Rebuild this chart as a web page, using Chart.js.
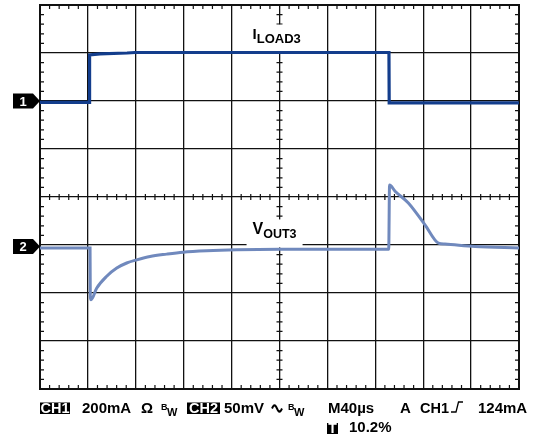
<!DOCTYPE html>
<html>
<head>
<meta charset="utf-8">
<script src="https://cdn.jsdelivr.net/npm/chart.js@4/dist/chart.umd.min.js"></script>
<style>
  html, body { margin: 0; padding: 0; background: #fff; }
  #wrap { width: 540px; height: 444px; position: relative; }
</style>
</head>
<body>
<div id="wrap"><canvas id="scope"></canvas></div>
<script>
// time in µs (40 µs/div), amplitude in divisions from screen centre
const ch1Time = [0, 41.3, 41.4, 50.1, 72.7, 79.3, 291.4, 291.6, 400];
const ch1Div  = [1.97, 1.97, 2.96, 2.98, 3.0, 3.01, 3.01, 1.96, 1.96];

const ch2Time = [0, 41.8, 42.0, 42.6, 47.3, 55.7, 64.1, 72.4, 80.8, 91.9, 105.8, 119.4, 139.2, 164.3,
                 200.4, 242.2, 291.2, 291.9, 296.5, 307.6, 321.5, 332.7, 338.2, 363.3, 400];
const ch2Div  = [-1.06, -1.06, -2.08, -2.14, -1.90, -1.65, -1.48, -1.375, -1.31, -1.24, -1.19, -1.15, -1.12, -1.10,
                 -1.09, -1.09, -1.09, 0.25, 0.12, -0.125, -0.58, -0.96, -0.98, -1.03, -1.06];

const markerNames  = ['1', '2'];
const markerLevels = [2.0, -1.03];

const ch1Color = '#133d8c';
const ch2Color = '#7089bd';
const FONT = "'Liberation Sans', Arial, sans-serif";

const toPts = (xs, ys) => xs.map((t, i) => ({ x: t, y: ys[i] }));

// grid decoration: minor ticks, frame, labels, channel markers
const scopeDeco = {
  id: 'scopeDeco',
  beforeDatasetsDraw(chart) {
    const { ctx, chartArea: a, scales: { x, y } } = chart;
    ctx.save();
    ctx.strokeStyle = '#111';
    ctx.lineWidth = 1.2;
    const cx = x.getPixelForValue(200), cy = y.getPixelForValue(0);
    ctx.beginPath();
    for (let t = 0; t <= 400; t += 8) {
      if (t % 40 === 0) continue;
      const px = x.getPixelForValue(t);
      ctx.moveTo(px, a.top); ctx.lineTo(px, a.top + 4);
      ctx.moveTo(px, a.bottom); ctx.lineTo(px, a.bottom - 4);
      ctx.moveTo(px, cy - 3); ctx.lineTo(px, cy + 3);
    }
    for (let v = -40; v <= 40; v += 2) {
      if (v % 10 === 0) continue;
      const py = y.getPixelForValue(v / 10);
      ctx.moveTo(a.left, py); ctx.lineTo(a.left + 4, py);
      ctx.moveTo(a.right, py); ctx.lineTo(a.right - 4, py);
      ctx.moveTo(cx - 3, py); ctx.lineTo(cx + 3, py);
    }
    ctx.stroke();

    // frame
    ctx.lineWidth = 2;
    ctx.strokeRect(a.left, a.top, a.right - a.left, a.bottom - a.top);

    // trace labels on white boxes
    const label = (main, sub, t, v, mainSize, subSize) => {
      const px = x.getPixelForValue(t), py = y.getPixelForValue(v);
      ctx.font = 'bold ' + mainSize + 'px ' + FONT;
      const w1 = ctx.measureText(main).width;
      ctx.font = 'bold ' + subSize + 'px ' + FONT;
      const w2 = ctx.measureText(sub).width;
      ctx.fillStyle = '#fff';
      ctx.fillRect(px - 6, py - mainSize + 1, w1 + w2 + 12, mainSize + 12);
      ctx.fillStyle = '#000';
      ctx.textBaseline = 'alphabetic';
      ctx.font = 'bold ' + mainSize + 'px ' + FONT;
      ctx.fillText(main, px, py);
      ctx.font = 'bold ' + subSize + 'px ' + FONT;
      ctx.fillText(sub, px + w1, py + 4);
    };
    label('I', 'LOAD3', 177.5, 3.3, 15, 13);
    label('V', 'OUT3', 177.5, -0.78, 16, 12.5);
    ctx.restore();
  },
  afterDraw(chart) {
    const { ctx, chartArea: a, scales: { y } } = chart;
    ctx.save();
    // channel reference markers
    markerNames.forEach((n, i) => {
      const py = y.getPixelForValue(markerLevels[i]);
      ctx.fillStyle = '#000';
      ctx.beginPath();
      ctx.moveTo(a.left - 27, py - 7.5);
      ctx.lineTo(a.left - 7, py - 7.5);
      ctx.lineTo(a.left, py);
      ctx.lineTo(a.left - 7, py + 7.5);
      ctx.lineTo(a.left - 27, py + 7.5);
      ctx.closePath();
      ctx.fill();
      ctx.fillStyle = '#fff';
      ctx.font = 'bold 13px ' + FONT;
      ctx.textAlign = 'center';
      ctx.textBaseline = 'middle';
      ctx.fillText(n, a.left - 17, py + 1);
    });

    // status line
    ctx.textAlign = 'left';
    ctx.textBaseline = 'alphabetic';
    const box = (txt, x0, w, base, h, size) => {
      ctx.fillStyle = '#000';
      ctx.fillRect(x0, base - h + 1.5, w, h);
      ctx.fillStyle = '#fff';
      ctx.font = 'bold ' + size + 'px ' + FONT;
      ctx.textAlign = 'center';
      ctx.fillText(txt, x0 + w / 2, base + 0.5);
      ctx.textAlign = 'left';
    };
    const txt = (s, x0, base, size) => {
      ctx.fillStyle = '#000';
      ctx.font = 'bold ' + size + 'px ' + FONT;
      ctx.fillText(s, x0, base);
    };
    const base = 412.5;
    box('CH1', 40, 30, base, 11.5, 14.5);
    txt('200mA', 82, base, 15);
    txt('Ω', 141, base, 15);
    txt('B', 161, base - 3, 9);
    txt('W', 167, base + 3, 11);
    box('CH2', 187, 33, base, 11.5, 14.5);
    txt('50mV', 224, base, 15);
    // AC coupling symbol
    ctx.strokeStyle = '#000';
    ctx.lineWidth = 2;
    ctx.beginPath();
    for (let i = 0; i <= 20; i++) {
      const xx = 272 + i * 0.5;
      const yy = base - 4 - 3.2 * Math.sin(i / 20 * 2 * Math.PI);
      if (i === 0) ctx.moveTo(xx, yy); else ctx.lineTo(xx, yy);
    }
    ctx.stroke();
    txt('B', 288, base - 3, 9);
    txt('W', 294, base + 3, 11);
    txt('M40µs', 328, base, 15);
    txt('A', 400, base, 15);
    txt('CH1', 420, base, 14.5);
    // rising edge symbol
    ctx.lineWidth = 1.3;
    ctx.beginPath();
    ctx.moveTo(451, base - 0.5);
    ctx.lineTo(456, base - 0.5);
    ctx.lineTo(458.5, base - 10.5);
    ctx.lineTo(463, base - 10.5);
    ctx.stroke();
    txt('124mA', 478, base, 15);
    box('T', 327, 11, 432.5, 11, 14);
    txt('10.2%', 349, 432, 15);
    ctx.restore();
  }
};

new Chart(document.getElementById('scope'), {
  type: 'line',
  data: {
    datasets: [
      { label: 'ILOAD3', data: toPts(ch1Time, ch1Div), borderColor: ch1Color, borderWidth: 3.2,
        pointRadius: 0, tension: 0, fill: false },
      { label: 'VOUT3', data: toPts(ch2Time, ch2Div), borderColor: ch2Color, borderWidth: 3,
        pointRadius: 0, cubicInterpolationMode: 'monotone', fill: false }
    ]
  },
  options: {
    responsive: true,
    maintainAspectRatio: false,
    animation: false,
    layout: { padding: { left: 40, right: 21, top: 5, bottom: 55 } },
    plugins: { legend: { display: false }, tooltip: { enabled: false } },
    scales: {
      x: {
        type: 'linear', min: 0, max: 400,
        ticks: { display: false, stepSize: 40 },
        grid: { color: '#111', lineWidth: 1.3, drawTicks: false },
        border: { display: false }
      },
      y: {
        min: -4, max: 4,
        ticks: { display: false, stepSize: 1 },
        grid: { color: '#111', lineWidth: 1.3, drawTicks: false },
        border: { display: false }
      }
    }
  },
  plugins: [scopeDeco]
});
</script>
</body>
</html>
